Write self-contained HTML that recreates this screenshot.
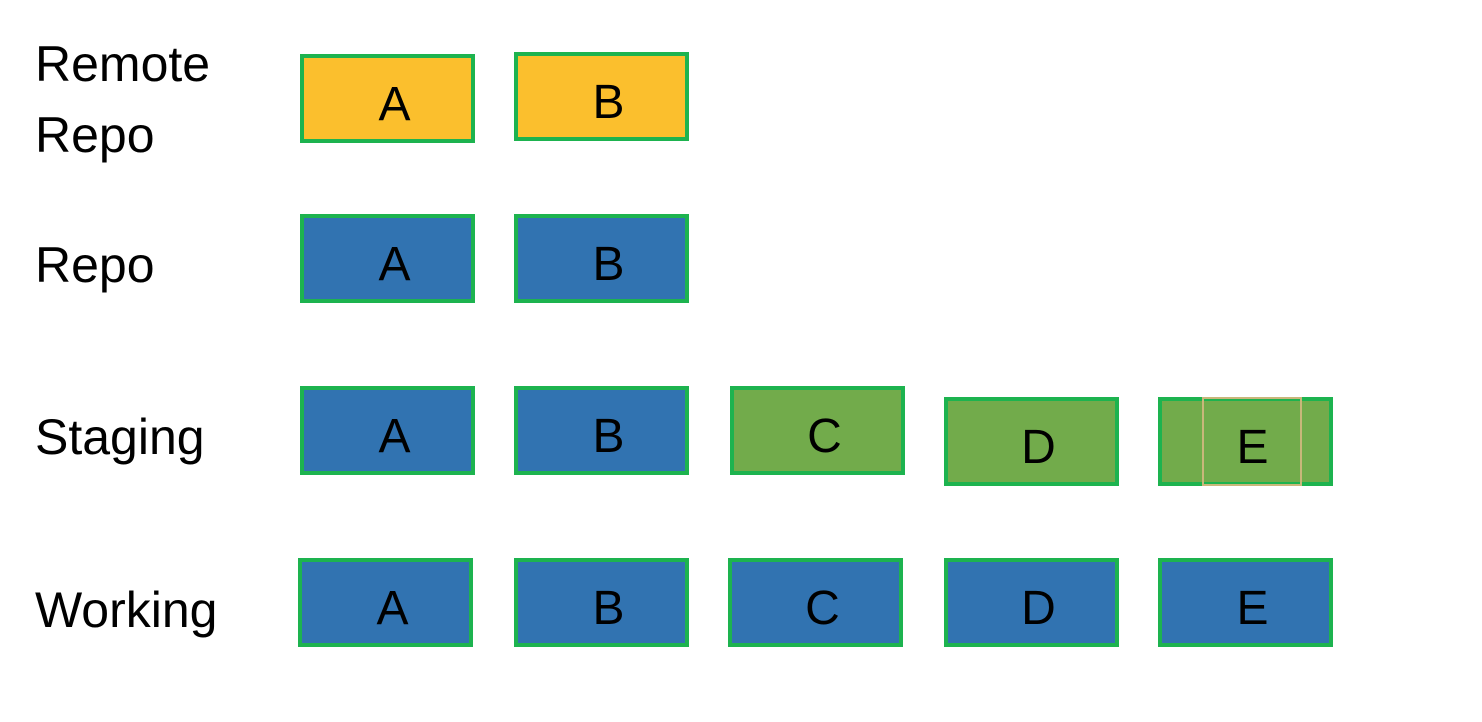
<!DOCTYPE html>
<html><head><meta charset="utf-8"><style>
html,body{margin:0;padding:0;background:#fff;}
#c{position:relative;width:1482px;height:722px;overflow:hidden;font-family:"Liberation Sans",sans-serif;}
.lbl{position:absolute;left:35px;font-size:50px;line-height:1;color:#000;white-space:nowrap;}
.box{position:absolute;width:175px;height:89px;box-sizing:border-box;border:4px solid #1db34f;display:flex;align-items:center;justify-content:center;font-size:48px;color:#000;padding-top:12px;padding-left:14px;}
.y{background:#fbbf2d}.b{background:#3173b1}.g{background:#72ab4b}
</style></head><body>
<div id="c">
<div class="lbl" style="top:39px">Remote</div>
<div class="lbl" style="top:110px">Repo</div>
<div class="lbl" style="top:240px">Repo</div>
<div class="lbl" style="top:412px">Staging</div>
<div class="lbl" style="top:585px">Working</div>

<div class="box y" style="left:300px;top:54px">A</div>
<div class="box y" style="left:514px;top:52px">B</div>

<div class="box b" style="left:300px;top:214px">A</div>
<div class="box b" style="left:514px;top:214px">B</div>

<div class="box b" style="left:300px;top:386px">A</div>
<div class="box b" style="left:514px;top:386px">B</div>
<div class="box g" style="left:730px;top:386px">C</div>
<div class="box g" style="left:944px;top:397px">D</div>
<div class="box g" style="left:1158px;top:397px">E</div>
<div style="position:absolute;left:1202px;top:397px;width:100px;height:89px;box-sizing:border-box;border:2px solid #c9b77a;"></div>

<div class="box b" style="left:298px;top:558px">A</div>
<div class="box b" style="left:514px;top:558px">B</div>
<div class="box b" style="left:728px;top:558px">C</div>
<div class="box b" style="left:944px;top:558px">D</div>
<div class="box b" style="left:1158px;top:558px">E</div>
</div>
</body></html>
